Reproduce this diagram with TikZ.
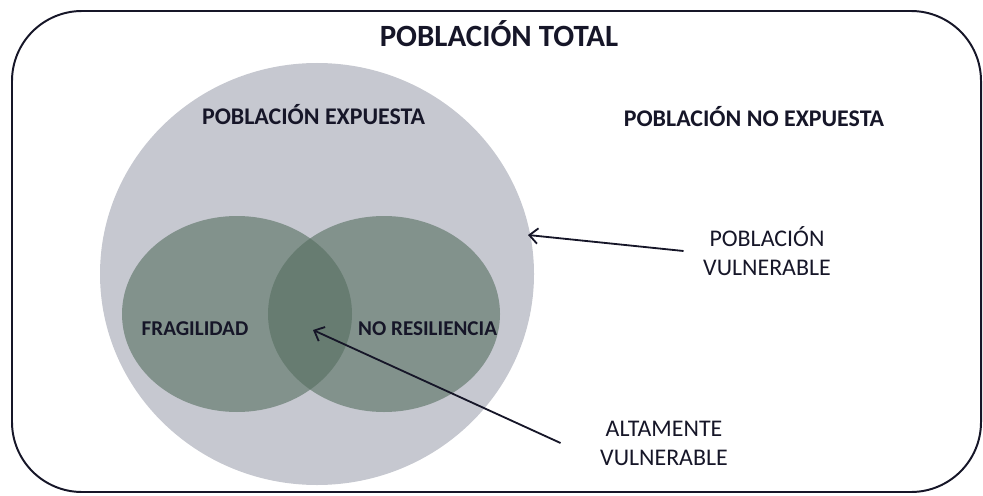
\documentclass[tikz,border=0pt]{standalone}
\usepackage{fontspec}
\setmainfont{Carlito}
\usetikzlibrary{arrows.meta,positioning}
\definecolor{tinta}{RGB}{22,22,40}
\definecolor{gris}{RGB}{198,200,208}
\definecolor{verde}{RGB}{85,110,95}

\begin{document}
\begin{tikzpicture}[every node/.style={text=tinta,inner sep=1pt},
  rotulo/.style={font=\fontsize{17}{20}\selectfont\bfseries,anchor=base},
  nota/.style={font=\fontsize{17}{20.6}\selectfont,align=center},
  flecha/.style={draw=tinta,line width=1.3pt,-{Straight Barb[length=6pt,width=11pt]}}]
\useasboundingbox (0,0) rectangle (24.575,12.375);
% marco
\draw[tinta,line width=1.4pt,rounded corners=1.75cm] (0.30,0.075) rectangle (24.525,12.10);
% conjuntos
\fill[gris] (7.925,5.525) ellipse (5.425 and 5.275);
\fill[verde,fill opacity=0.6] (5.925,4.525) ellipse (2.875 and 2.45);
\fill[verde,fill opacity=0.6] (9.600,4.525) ellipse (2.900 and 2.45);
\coordinate (borde) at (13.200,6.500);
\coordinate (nucleo) at (7.825,4.125);
% textos
\node[rotulo,font=\fontsize{22}{26}\selectfont\bfseries] (total) at (12.475,11.200) {POBLACIÓN TOTAL};
\node[rotulo] (expuesta) at (7.840,9.275) {POBLACIÓN EXPUESTA};
\node[rotulo] (noexpuesta) at (18.850,9.200) {POBLACIÓN NO EXPUESTA};
\node[rotulo,font=\fontsize{15}{18}\selectfont\bfseries] (fragilidad) at (4.875,4.000) {FRAGILIDAD};
\node[rotulo,font=\fontsize{15}{18}\selectfont\bfseries] (resiliencia) at (10.690,4.000) {NO RESILIENCIA};
\node[nota] (vulnerable) at (19.175,6.100) {POBLACIÓN\\VULNERABLE};
\node[nota] (altamente) at (16.600,1.300) {ALTAMENTE\\VULNERABLE};
% flechas
\draw[flecha] ([xshift=-0.45cm]vulnerable.west) -- (borde);
\draw[flecha] ([xshift=-0.95cm]altamente.west) -- (nucleo);
\end{tikzpicture}
\end{document}
